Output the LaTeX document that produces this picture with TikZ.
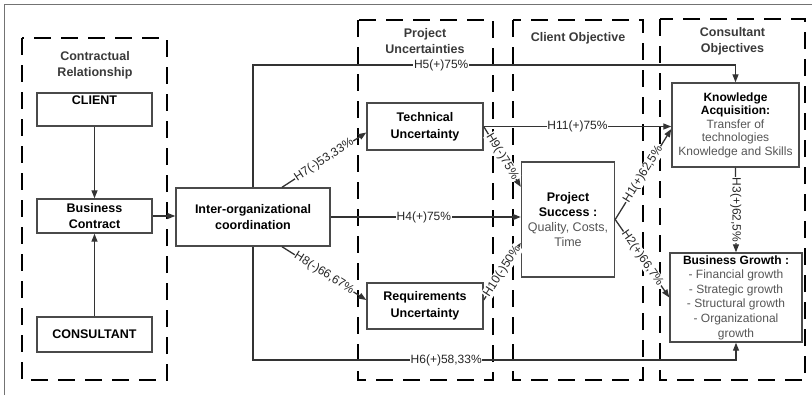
\documentclass[tikz,border=0pt]{standalone}
\usepackage{fontspec}
\setmainfont{Liberation Sans}
\usetikzlibrary{arrows.meta,calc}
\definecolor{lineC}{HTML}{333333}
\definecolor{boxC}{HTML}{4A4A4A}
\definecolor{txtC}{HTML}{555555}
\definecolor{ttlC}{HTML}{3A3A3A}
\begin{document}
\begin{tikzpicture}[x=1bp,y=-1bp,
  every node/.style={font=\fontsize{12.5bp}{14bp}\selectfont},
  box/.style={draw=boxC, line width=1.4bp, align=center, inner sep=1bp},
  group/.style={draw=black, line width=2.6bp, dash pattern=on 17bp off 10bp},
  gtitle/.style={align=center, text=ttlC, font=\fontsize{12.5bp}{16bp}\selectfont\bfseries},
  conn/.style={draw=lineC, line width=1.3bp},
  arr/.style={conn, -{Triangle[length=8bp,width=6bp]}},
  lbl/.style={fill=white, inner sep=0.6bp, text=black!85, font=\fontsize{12bp}{14bp}\selectfont}
]
\useasboundingbox (0,0) rectangle (812,395);
% frame
\draw[black!55, line width=1bp] (4,395) -- (4,4) -- (812,4);

% group boxes
\draw[group] (22,38) rectangle (167,380);
\draw[group] (358,20) rectangle (493,380);
\draw[group] (513,20) rectangle (643,380);
\draw[group] (660,19) rectangle (805,380);
\node[gtitle] (t1) at (95,65) {Contractual\\Relationship};
\node[gtitle] (t2) at (425,41) {Project\\Uncertainties};
\node[gtitle] (t3) at (578,38) {Client Objective};
\node[gtitle] (t4) at (732.5,41.5) {Consultant\\Objectives};

% nodes
\node[box, minimum width=115bp, minimum height=33bp, text height=9bp, text depth=20bp] (client) at (94.5,109.5) {\textbf{CLIENT}};
\node[box, minimum width=115bp, minimum height=34bp, font=\fontsize{12.5bp}{16bp}\selectfont\bfseries] (bc) at (94.5,216) {Business\\Contract};
\node[box, minimum width=115bp, minimum height=35bp, font=\fontsize{12.5bp}{16bp}\selectfont\bfseries] (cons) at (94.5,334.5) {CONSULTANT};
\node[box, minimum width=154bp, minimum height=58bp, font=\fontsize{12.5bp}{16bp}\selectfont\bfseries] (io) at (253,217) {Inter-organizational\\coordination};
\node[box, minimum width=116bp, minimum height=47bp, font=\fontsize{12.5bp}{17bp}\selectfont\bfseries] (tech) at (425,126.5) {Technical\\Uncertainty};
\node[box, minimum width=116bp, minimum height=46bp, font=\fontsize{12.5bp}{17bp}\selectfont\bfseries] (req) at (425,306) {Requirements\\Uncertainty};
\node[box, minimum width=93bp, minimum height=115bp, font=\fontsize{12.5bp}{15bp}\selectfont] (ps) at (568,219.5) {\textbf{Project}\\\textbf{Success :}\\{\color{txtC}Quality, Costs,}\\{\color{txtC}Time}};
\node[box, minimum width=127bp, minimum height=84bp, inner xsep=0bp, font=\fontsize{12bp}{13.5bp}\selectfont] (ka) at (735.5,125) {\textbf{Knowledge}\\\textbf{Acquisition:}\\{\color{txtC}Transfer of}\\{\color{txtC}technologies}\\{\color{txtC}Knowledge and Skills}};
\node[box, minimum width=132bp, minimum height=89bp, inner sep=0bp, font=\fontsize{12bp}{14.6bp}\selectfont] (bg) at (736,297.5) {\textbf{Business Growth :}\\{\color{txtC}- Financial growth}\\{\color{txtC}- Strategic growth}\\{\color{txtC}- Structural growth}\\{\color{txtC}- Organizational}\\{\color{txtC}growth}};

% contractual relationship
\draw[arr] (client) -- (bc);
\draw[arr] (cons) -- (bc);
\draw[arr] (bc) -- (bc -| io.west);

% H5 and H6 bypass lines
\coordinate (c5a) at (253,65);
\coordinate (c5b) at (735.5,65);
\draw[arr] (io.north) -- (c5a) -- node[lbl, pos=0.39] (l5) {H5(+)75\%} (c5b) -- (ka.north);
\coordinate (c6a) at (253,360);
\coordinate (c6b) at (736,360);
\draw[arr] (io.south) -- (c6a) -- node[lbl, pos=0.40] (l6) {H6(+)58,33\%} (c6b) -- (bg.south);

% H7, H8
\draw[arr] ($(io.north)+(29,0)$) -- node[lbl, sloped] (l7) {H7(-)53,33\%} ($(tech.west)+(0,6)$);
\draw[arr] ($(io.south)+(29,0)$) -- node[lbl, sloped] (l8) {H8(-)66,67\%} ($(req.west)+(0,-6)$);

% H4
\draw[arr] (io.east) -- node[lbl, pos=0.49] (l4) {H4(+)75\%} (io.east -| ps.west);

% H11
\draw[arr] (tech.east) -- node[lbl, pos=0.5] (l11) {H11(+)75\%} (tech.east -| ka.west);

% H9, H10
\draw[arr] (tech.east) -- node[lbl, sloped] (l9) {H9(-)75\%} ($(ps.north west)!0.22!(ps.south west)$);
\draw[arr] ($(req.east)+(0,-6)$) -- node[lbl, sloped] (l10) {H10(-)50\%} ($(ps.north west)!0.70!(ps.south west)$);

% H1, H2
\draw[arr] (ps.east) -- node[lbl, sloped] (l1) {H1(+)62,5\%} ($(ka.west)+(0,4)$);
\draw[arr] (ps.east) -- node[lbl, sloped] (l2) {H2(+)66,7\%} (bg.west);

% H3
\draw[arr] (ka.south) -- node[lbl, rotate=-90] (l3) {H3(+)62,5\%} (bg.north);
\end{tikzpicture}
\end{document}
